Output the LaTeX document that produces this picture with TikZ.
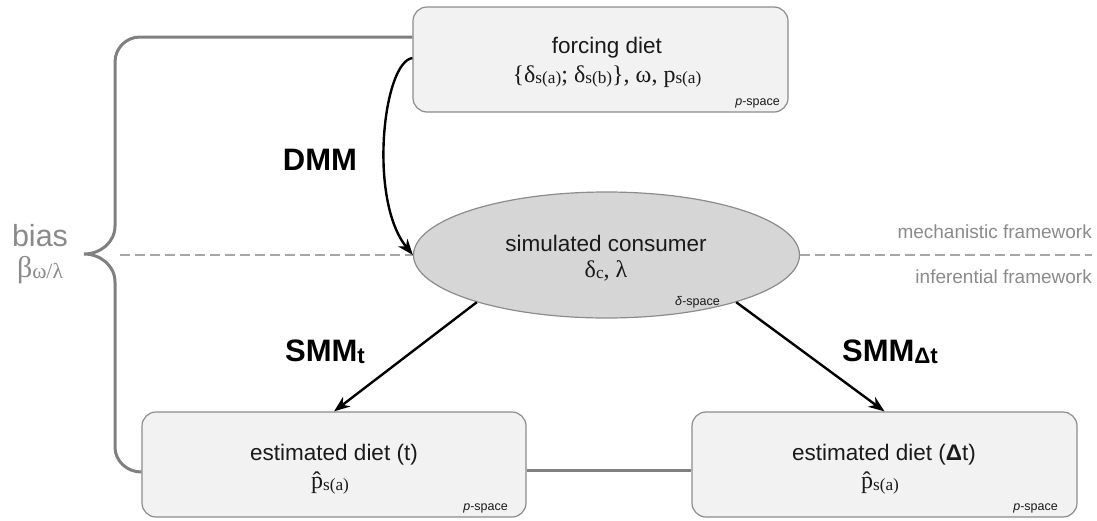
\documentclass[tikz,border=0pt]{standalone}
\usepackage{fontspec}
\setmainfont{Liberation Sans}
\newfontfamily\tms{Liberation Serif}
\usetikzlibrary{arrows.meta,shapes.geometric}
\definecolor{boxfill}{HTML}{F2F2F2}
\definecolor{boxline}{HTML}{8C8C8C}
\definecolor{ellfill}{HTML}{D6D6D6}
\definecolor{bracecol}{HTML}{808080}
\definecolor{dashcol}{HTML}{A6A6A6}
\definecolor{txtgray}{HTML}{8A8A8A}
\definecolor{txtdark}{HTML}{1A1A1A}
\newcommand\ssb[1]{\raisebox{-0.1ex}{\scalebox{0.72}{#1}}}
\newcommand\phat{\^{p}}
\tikzset{
  boxnode/.style={draw=boxline, fill=boxfill, line width=1.2pt, rounded corners=14pt, minimum width=384pt, minimum height=105pt, inner sep=0pt},
  ellnode/.style={ellipse, draw=boxline, fill=ellfill, line width=1.2pt, minimum width=386pt, minimum height=126pt, inner sep=0pt},
  lbl/.style={font=\fontsize{22.5}{26}\selectfont, text=txtdark, inner sep=0pt},
  mth/.style={font=\tms\fontsize{24}{26}\selectfont, text=txtdark, inner sep=0pt},
  tag/.style={font=\fontsize{12.5}{14}\selectfont, text=txtdark, inner sep=0pt},
  arrlbl/.style={font=\bfseries\fontsize{31}{34}\selectfont, text=black, inner sep=0pt},
  fwlbl/.style={font=\fontsize{19}{22}\selectfont, text=txtgray, inner sep=0pt},
  biaslbl/.style={font=\fontsize{30.5}{34}\selectfont, text=txtgray, inner sep=0pt},
  arr/.style={draw=black, line width=2.4pt, -{Stealth[length=16pt,width=12pt,inset=5pt]}},
  bracepath/.style={draw=bracecol, line width=3pt},
  dashpath/.style={draw=dashcol, line width=1.5pt, dash pattern=on 10pt off 5pt},
}
\begin{document}
\begin{tikzpicture}[x=1pt,y=-1pt]
\useasboundingbox (0,0) rectangle (1097,520);

% boxes
\node[boxnode, minimum width=375pt] (force) at (600.5,59.5) {};
\node[ellnode] (cons) at (606.5,255) {};
\node[boxnode] (estl) at (334,464.5) {};
\node[boxnode, minimum width=385pt] (estr) at (884.5,464.5) {};

% texts in forcing diet
\node[lbl] (forcet) at (607,48) {forcing diet};
\node[mth] (forcem) at (607,77) {\{δ\ssb{s(a)}; δ\ssb{s(b)}\}, ω, p\ssb{s(a)}};
\node[tag, anchor=east] (forces) at (780,103) {\textit{p}-space};

% consumer
\node[lbl] (const) at (606,243) {simulated consumer};
\node[mth] (consm) at (606,271) {δ\ssb{c}, λ};
\node[tag, anchor=east] (conss) at (720,302) {\textit{δ}-space};

% estimated diet t
\node[lbl] (estlt) at (334,455) {estimated diet (t)};
\node[mth] (estlm) at (330,483) {\phat\ssb{s(a)}};
\node[tag, anchor=east] (estls) at (508,508) {\textit{p}-space};

% estimated diet dt
\node[lbl] (estrt) at (884,455) {estimated diet (\textbf{Δ}t)};
\node[mth] (estrm) at (880,483) {\phat\ssb{s(a)}};
\node[tag, anchor=east] (estrs) at (1058,508) {\textit{p}-space};

% framework dashed line
\coordinate (dl) at (120,255);
\coordinate (dr) at (1092,255);
\draw[dashpath] (dl) -- (cons.west);
\draw[dashpath] (cons.east) -- (dr);
\node[fwlbl, anchor=east] (mech) at (1092,232) {mechanistic framework};
\node[fwlbl, anchor=east] (infer) at (1092,277) {inferential framework};

% brace
\draw[bracepath] ([yshift=22.5pt]force.west) -- (140,37) to[out=180,in=90] (115,62) -- (115,226)
  to[out=-90,in=0] (84,254) to[out=0,in=90] (115,282) -- (115,447) to[out=-90,in=180] ([yshift=-7.5pt]estl.west);
\node[biaslbl] (bias) at (40,236) {bias};
\node[font=\tms\fontsize{30}{34}\selectfont, text=txtgray, inner sep=0pt] (beta) at (40,270) {β\ssb{ω/λ}};

% bottom connector
\draw[bracepath] ([yshift=-5.5pt]estl.east) -- ([yshift=-5.5pt]estr.west);

% arrows
\draw[arr] ([yshift=1.5pt]force.west) .. controls (383,62) and (368,200) .. (cons.west);
\draw[arr] (cons.200) -- (estl.north);
\draw[arr] (cons.-20) -- (estr.north);

\node[arrlbl] (dmm) at (320,160) {DMM};
\node[arrlbl] (smmt) at (325,352) {SMM\ssb{t}};
\node[arrlbl] (smmd) at (890,352) {SMM\ssb{Δt}};
\end{tikzpicture}
\end{document}
